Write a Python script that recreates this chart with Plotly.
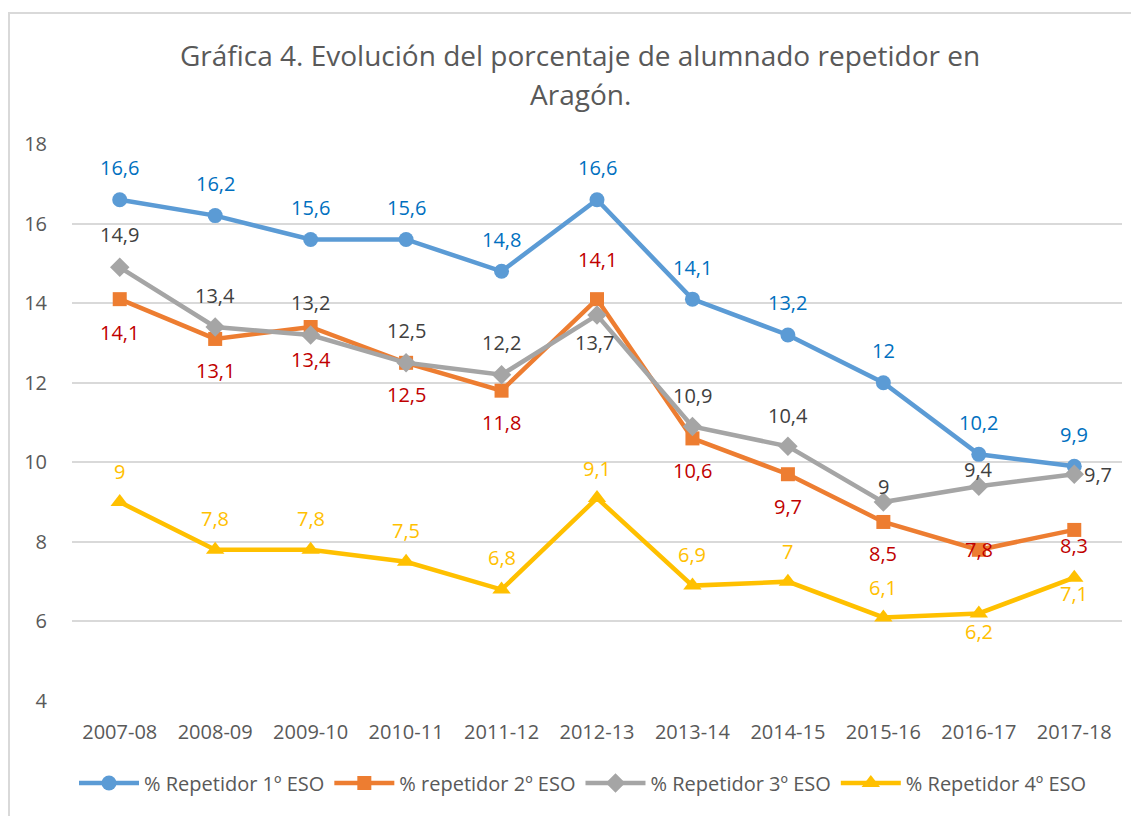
import plotly.graph_objects as go

categories = ["2007-08", "2008-09", "2009-10", "2010-11", "2011-12", "2012-13",
              "2013-14", "2014-15", "2015-16", "2016-17", "2017-18"]
rep1 = [16.6, 16.2, 15.6, 15.6, 14.8, 16.6, 14.1, 13.2, 12, 10.2, 9.9]
rep2 = [14.1, 13.1, 13.4, 12.5, 11.8, 14.1, 10.6, 9.7, 8.5, 7.8, 8.3]
rep3 = [14.9, 13.4, 13.2, 12.5, 12.2, 13.7, 10.9, 10.4, 9, 9.4, 9.7]
rep4 = [9, 7.8, 7.8, 7.5, 6.8, 9.1, 6.9, 7, 6.1, 6.2, 7.1]
names = ["% Repetidor 1º ESO", "% repetidor 2º ESO", "% Repetidor 3º ESO", "% Repetidor 4º ESO"]

FONT = "Open Sans"
OFF = 8  # page body margin
W, H = 1139, 816
L, R, T, B = 72 - OFF, 17 + OFF, 144 - OFF, 115 + OFF

series = [
    dict(y=rep1, name=names[0], color="#5B9BD5", lab="#0070C0", symbol="circle", size=15,
         ys=[32]*11, xs=[0]*11),
    dict(y=rep2, name=names[1], color="#ED7D31", lab="#C00000", symbol="square", size=14,
         ys=[-33, -32, -32, -32, -32, 40, -32, -32, -32, 0, -16], xs=[0]*11),
    dict(y=rep3, name=names[2], color="#A5A5A5", lab="#404040", symbol="diamond", size=15,
         ys=[33, 32, 32, 32, 32, -27, 31, 31, 16, 17, 0], xs=[0]*5 + [-3] + [0]*4 + [24]),
    dict(y=rep4, name=names[3], color="#FFC000", lab="#FFC000", symbol="triangle-up", size=16,
         ys=[31, 31, 31, 31, 32, 30, 31, 30, 30, -18, -16], xs=[0]*11),
]

fig = go.Figure()
annotations = []
for s in series:
    fig.add_trace(go.Scatter(
        x=categories, y=s["y"], name=s["name"], mode="lines+markers",
        line=dict(color=s["color"], width=4.5),
        marker=dict(symbol=s["symbol"], size=s["size"], color=s["color"]),
    ))
    for c, v, dy, dx in zip(categories, s["y"], s["ys"], s["xs"]):
        annotations.append(dict(
            x=c, y=v, xref="x", yref="y", text=f"{v:g}".replace(".", ","),
            showarrow=False, yshift=dy, xshift=dx,
            font=dict(family=FONT, size=20, color=s["lab"]),
        ))

pw = W - L - R
ph = H - T - B
def px(x):  # x in page pixels
    return (x - OFF - L) / pw
def py(y):  # y in page pixels
    return (H - B - (y - OFF)) / ph

annotations.append(dict(
    x=px(580), y=py(55), xref="paper", yref="paper", showarrow=False,
    text="Gráfica 4. Evolución del porcentaje de alumnado repetidor en",
    font=dict(family=FONT, size=28, color="#595959"), xanchor="center", yanchor="middle"))
annotations.append(dict(
    x=px(580), y=py(94), xref="paper", yref="paper", showarrow=False,
    text="Aragón.",
    font=dict(family=FONT, size=28, color="#595959"), xanchor="center", yanchor="middle"))

shapes = [
    dict(type="line", xref="paper", yref="paper", x0=px(8), x1=px(1160), y0=py(13), y1=py(13),
         line=dict(color="#D9D9D9", width=2)),
    dict(type="line", xref="paper", yref="paper", x0=px(9), x1=px(9), y0=py(13), y1=py(830),
         line=dict(color="#D9D9D9", width=2)),
]

fig.update_layout(
    width=W, height=H,
    margin=dict(l=L, r=R, t=T, b=B),
    paper_bgcolor="white", plot_bgcolor="white",
    font=dict(family=FONT, color="#595959"),
    showlegend=True,
    legend=dict(orientation="h", x=px(583), xanchor="center", y=py(783), yanchor="middle",
                font=dict(family=FONT, size=20, color="#595959"), itemwidth=60,
                tracegroupgap=0),
    annotations=annotations,
    shapes=shapes,
    xaxis=dict(type="category", showgrid=False, zeroline=False, showline=False,
               ticks="outside", ticklen=13, tickcolor="rgba(0,0,0,0)",
               tickfont=dict(family=FONT, size=20, color="#595959"),
               range=[-0.5, len(categories) - 0.5]),
    yaxis=dict(range=[4, 18], dtick=2, showgrid=True, gridcolor="#D9D9D9", gridwidth=1.5,
               zeroline=False, showline=False, ticks="outside", ticklen=20,
               tickcolor="rgba(0,0,0,0)",
               tickfont=dict(family=FONT, size=20, color="#595959")),
)

fig.write_html("out.html")
